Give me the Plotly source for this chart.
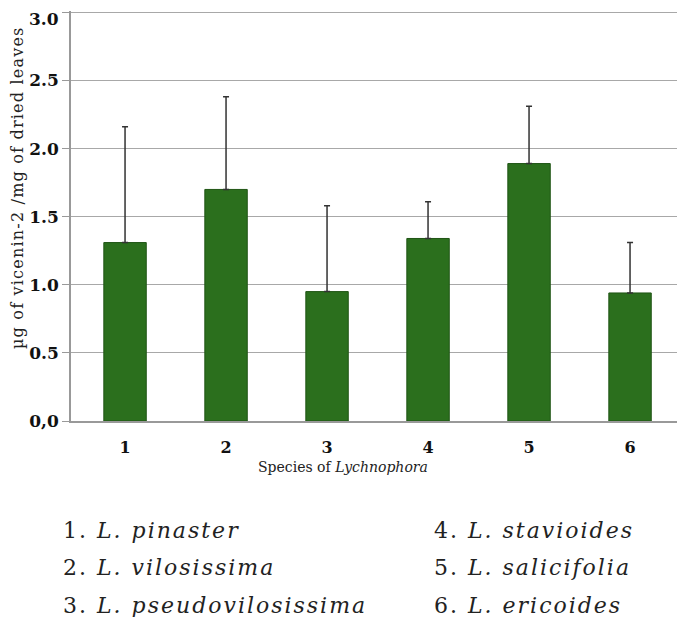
import plotly.graph_objects as go

categories = ["1", "2", "3", "4", "5", "6"]
values = [1.31, 1.70, 0.95, 1.34, 1.89, 0.94]
errors = [0.85, 0.68, 0.63, 0.27, 0.42, 0.37]
species = ["L. pinaster", "L. vilosissima", "L. pseudovilosissima",
           "L. stavioides", "L. salicifolia", "L. ericoides"]
yticks = [0.0, 0.5, 1.0, 1.5, 2.0, 2.5, 3.0]
ytick_text = ["0,0", "0.5", "1.0", "1.5", "2.0", "2.5", "3.0"]

font_family = "DejaVu Serif"
# the page body has an 8px margin; size the figure so it fits the window
OFF = 8
W, H = 669, 609
L, R, T, B = 63, 0, 3, 196
PW, PH = W - L - R, H - T - B


def px_x(sx):
    return (sx - OFF - L) / PW


def px_y(sy):
    return (H - B - (sy - OFF)) / PH


fig = go.Figure()
fig.add_trace(go.Bar(
    x=categories, y=values,
    marker=dict(color="#2b6f1d", line=dict(color="#1f5414", width=1)),
    width=0.42,
    error_y=dict(type="data", array=errors, symmetric=False, arrayminus=[0] * 6,
                 color="#333333", thickness=1.5, width=3),
))

fig.update_layout(
    width=W, height=H,
    margin=dict(l=L, r=R, t=T, b=B),
    plot_bgcolor="white", paper_bgcolor="white",
    showlegend=False,
    font=dict(family=font_family, color="#111111"),
)
fig.update_xaxes(
    type="category", range=[-0.535, 5.465], automargin=False,
    showline=True, linecolor="#999999", linewidth=1.5,
    ticks="", ticklabelstandoff=11,
    tickfont=dict(size=16, family=font_family, weight="bold"),
)
# top tick label would be clipped at the page edge: draw it as an annotation just below
shown_ticktext = ytick_text[:-1] + [""]
fig.update_yaxes(
    range=[0, 3.01], tickvals=yticks, ticktext=shown_ticktext, automargin=False,
    showgrid=True, gridcolor="#a8a8a8", gridwidth=1.2,
    showline=True, linecolor="#999999", linewidth=1.5,
    ticks="outside", ticklen=7, tickcolor="#999999",
    ticklabeloverflow="allow",
    tickfont=dict(size=17, family=font_family, weight="bold"),
    zeroline=False,
)
fig.add_annotation(
    text=f"<b>{ytick_text[-1]}</b>", xref="paper", yref="paper",
    x=px_x(61), y=1.0, xanchor="right", yanchor="top", yshift=T + 1,
    showarrow=False, font=dict(size=17, family=font_family, color="#111111"),
)

# axis titles
fig.add_annotation(
    text="Species of <i>Lychnophora</i>", xref="paper", yref="paper",
    x=px_x(343), y=px_y(467), xanchor="center", yanchor="middle",
    showarrow=False, font=dict(size=14, family=font_family, color="#222222"),
)
fig.add_annotation(
    text="<span style='letter-spacing:1.2px'>µg of vicenin-2 /mg of dried leaves</span>",
    xref="paper", yref="paper",
    x=px_x(17), y=px_y(188), xanchor="center", yanchor="middle", textangle=-90,
    showarrow=False, font=dict(size=16, family=font_family, color="#222222"),
)

# species legend as text
for i, name in enumerate(species):
    col = i // 3
    row = i % 3
    x = 61 if col == 0 else 432
    y = 530 + row * 37.5
    fig.add_annotation(
        text=f"<span style='letter-spacing:2px'>{i+1}. <i>{name}</i></span>",
        xref="paper", yref="paper",
        x=px_x(x), y=px_y(y),
        xanchor="left", yanchor="middle", showarrow=False,
        font=dict(size=22, family=font_family, color="#222222"),
    )

fig.write_html("out.html")
